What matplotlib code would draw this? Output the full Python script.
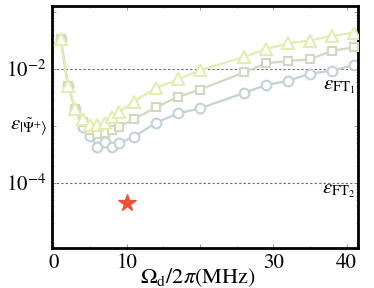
import matplotlib
matplotlib.use("Agg")
import matplotlib.pyplot as plt
import numpy as np
from matplotlib.ticker import LogLocator, NullFormatter, FixedLocator, MultipleLocator

plt.rcParams['font.family'] = ['STIXGeneral', 'DejaVu Serif']
plt.rcParams['mathtext.fontset'] = 'stix'

# data (log10 of error)
x_tri = [1, 2, 3, 4, 5, 6, 7, 8, 9, 11, 14, 17, 20, 26, 29, 32, 35, 38, 41]
logy_tri = [-1.48, -2.30, -2.71, -2.88, -2.98, -2.98, -2.94, -2.84, -2.75, -2.57,
            -2.33, -2.18, -2.02, -1.79, -1.65, -1.55, -1.50, -1.42, -1.36]
x_sq = [1, 2, 3, 4, 5, 6, 7, 8, 9, 11, 14, 17, 20, 26, 29, 32, 35, 38, 41]
logy_sq = [-1.48, -2.30, -2.71, -2.93, -3.07, -3.14, -3.12, -3.07, -3.01, -2.88,
           -2.67, -2.49, -2.36, -2.06, -1.90, -1.86, -1.83, -1.68, -1.62]
x_circ = [1, 2, 3, 4, 5, 6, 7, 8, 9, 11, 14, 17, 20, 26, 29, 32, 35, 38, 41]
logy_circ = [-1.48, -2.30, -2.71, -3.01, -3.17, -3.36, -3.28, -3.36, -3.30, -3.19,
             -2.94, -2.78, -2.69, -2.42, -2.28, -2.21, -2.08, -2.03, -1.93]
star_x = [10]
star_y = [4.5e-5]
eps_ft1 = 1e-2
eps_ft2 = 1e-4

fig = plt.figure(figsize=(3.74, 2.88), dpi=100)
ax = fig.add_axes([0.139, 0.139, 0.817, 0.840])

c_tri = '#e3ecb4'
c_sq = '#cfd9bf'
c_circ = '#c3d2d5'

ax.axhline(eps_ft1, color='#666666', ls=(0, (2, 2)), lw=0.8, zorder=1)
ax.axhline(eps_ft2, color='#666666', ls=(0, (2, 2)), lw=0.8, zorder=1)

ax.plot(x_circ, 10**np.array(logy_circ), '-o', color=c_circ, mfc='white', mec=c_circ,
        ms=7, mew=1.5, lw=1.6, zorder=2)
ax.plot(x_sq, 10**np.array(logy_sq), '-s', color=c_sq, mfc='white', mec=c_sq,
        ms=6, mew=1.5, lw=1.6, zorder=3)
ax.plot(x_tri, 10**np.array(logy_tri), '-^', color=c_tri, mfc='white', mec=c_tri,
        ms=8, mew=1.5, lw=1.6, zorder=4)
ax.plot(star_x, star_y, marker='*', color='#e8533a', ms=13, ls='none', zorder=5)

ax.set_yscale('log')
ax.set_xlim(-0.2, 41.5)
ax.set_ylim(10**-5.14, 10**-0.895)

ax.yaxis.set_major_locator(FixedLocator([1e-4, 1e-3, 1e-2, 1e-1]))
ax.set_yticklabels([r'$10^{-4}$', '', r'$10^{-2}$', ''])
ax.yaxis.set_minor_locator(LogLocator(base=10, subs=np.arange(2, 10), numticks=20))
ax.yaxis.set_minor_formatter(NullFormatter())

ax.xaxis.set_major_locator(FixedLocator([0, 10, 20, 30, 40]))
ax.set_xticklabels(['0', '10', '', '30', '40'])
ax.xaxis.set_minor_locator(MultipleLocator(5))

ax.tick_params(which='both', direction='in', top=True, right=True, color='#888888')
ax.tick_params(which='major', length=3, width=0.6, labelsize=15, pad=4)
ax.tick_params(which='minor', length=1.5, width=0.5)
for s in ax.spines.values():
    s.set_linewidth(2)

ax.set_xlabel(r'$\Omega_{\rm d}/2\pi({\rm MHz})$', fontsize=16)
ax.xaxis.set_label_coords(0.478, -0.075, transform=ax.transAxes)
ax.xaxis.label.set_va('top')
ax.text(-0.075, 0.5, r'$\varepsilon_{|\tilde{\Psi}^{+}\rangle}$', transform=ax.transAxes,
        fontsize=15, ha='center', va='center')

ax.text(41.2, 10**-2.30, r'$\varepsilon_{\rm FT_1}$', fontsize=15, ha='right', va='center')
ax.text(41.2, 10**-4.13, r'$\varepsilon_{\rm FT_2}$', fontsize=15, ha='right', va='center')

fig.savefig('out.png', dpi=100)
